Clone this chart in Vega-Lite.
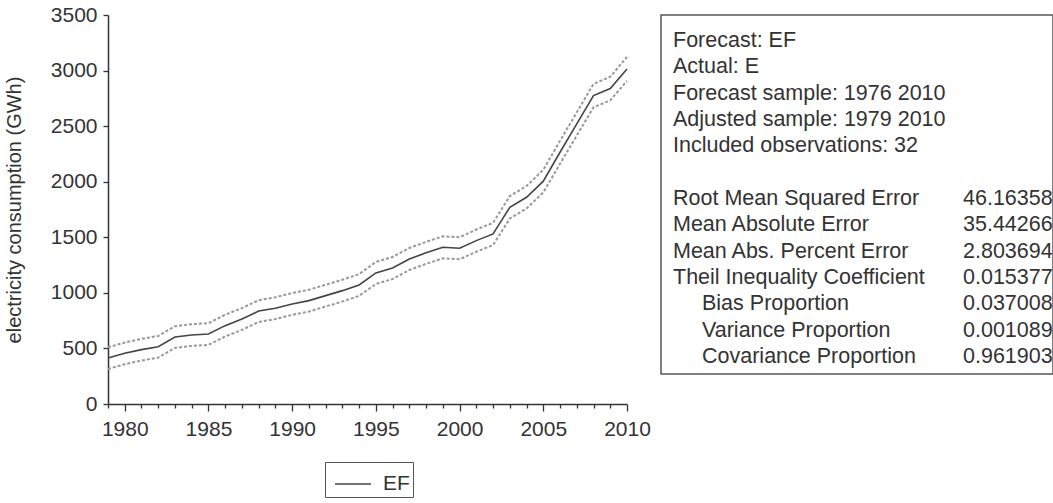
{
  "$schema": "https://vega.github.io/schema/vega-lite/v6.json",
  "background": "white",
  "padding": {"left": 4, "top": 4, "right": 0, "bottom": 0},
  "bounds": "flush",
  "spacing": 34,
  "config": {
    "font": "Liberation Sans",
    "axis": {"labelFont": "Liberation Sans", "titleFont": "Liberation Sans", "labelColor": "#333", "titleColor": "#333", "grid": false, "domainColor": "#333", "tickColor": "#333", "domainWidth": 1.5, "tickWidth": 1.3},
    "legend": {"labelFont": "Liberation Sans"}
  },
  "datasets": {
    "forecast": [
      {"year": 1979, "EF": 414, "upper": 510, "lower": 315},
      {"year": 1980, "EF": 456, "upper": 553, "lower": 358},
      {"year": 1981, "EF": 489, "upper": 586, "lower": 391},
      {"year": 1982, "EF": 515, "upper": 612, "lower": 417},
      {"year": 1983, "EF": 603, "upper": 700, "lower": 505},
      {"year": 1984, "EF": 621, "upper": 718, "lower": 523},
      {"year": 1985, "EF": 630, "upper": 727, "lower": 532},
      {"year": 1986, "EF": 705, "upper": 803, "lower": 607},
      {"year": 1987, "EF": 765, "upper": 863, "lower": 667},
      {"year": 1988, "EF": 836, "upper": 934, "lower": 738},
      {"year": 1989, "EF": 862, "upper": 960, "lower": 764},
      {"year": 1990, "EF": 900, "upper": 998, "lower": 802},
      {"year": 1991, "EF": 930, "upper": 1028, "lower": 832},
      {"year": 1992, "EF": 975, "upper": 1073, "lower": 877},
      {"year": 1993, "EF": 1020, "upper": 1118, "lower": 922},
      {"year": 1994, "EF": 1071, "upper": 1169, "lower": 973},
      {"year": 1995, "EF": 1179, "upper": 1278, "lower": 1080},
      {"year": 1996, "EF": 1224, "upper": 1323, "lower": 1125},
      {"year": 1997, "EF": 1305, "upper": 1404, "lower": 1206},
      {"year": 1998, "EF": 1360, "upper": 1459, "lower": 1261},
      {"year": 1999, "EF": 1410, "upper": 1509, "lower": 1311},
      {"year": 2000, "EF": 1401, "upper": 1500, "lower": 1302},
      {"year": 2001, "EF": 1470, "upper": 1570, "lower": 1370},
      {"year": 2002, "EF": 1530, "upper": 1630, "lower": 1430},
      {"year": 2003, "EF": 1770, "upper": 1871, "lower": 1669},
      {"year": 2004, "EF": 1860, "upper": 1961, "lower": 1759},
      {"year": 2005, "EF": 2005, "upper": 2107, "lower": 1903},
      {"year": 2006, "EF": 2265, "upper": 2368, "lower": 2162},
      {"year": 2007, "EF": 2520, "upper": 2624, "lower": 2416},
      {"year": 2008, "EF": 2775, "upper": 2880, "lower": 2670},
      {"year": 2009, "EF": 2838, "upper": 2944, "lower": 2732},
      {"year": 2010, "EF": 3015, "upper": 3122, "lower": 2908}
    ],
    "stats": [
      {"line": 0, "col": "label", "indent": false, "text": "Forecast: EF"},
      {"line": 1, "col": "label", "indent": false, "text": "Actual: E"},
      {"line": 2, "col": "label", "indent": false, "text": "Forecast sample: 1976 2010"},
      {"line": 3, "col": "label", "indent": false, "text": "Adjusted sample: 1979 2010"},
      {"line": 4, "col": "label", "indent": false, "text": "Included observations: 32"},
      {"line": 6, "col": "label", "indent": false, "text": "Root Mean Squared Error"},
      {"line": 7, "col": "label", "indent": false, "text": "Mean Absolute Error"},
      {"line": 8, "col": "label", "indent": false, "text": "Mean Abs. Percent Error"},
      {"line": 9, "col": "label", "indent": false, "text": "Theil Inequality Coefficient"},
      {"line": 10, "col": "label", "indent": true, "text": "Bias Proportion"},
      {"line": 11, "col": "label", "indent": true, "text": "Variance Proportion"},
      {"line": 12, "col": "label", "indent": true, "text": "Covariance Proportion"},
      {"line": 6, "col": "value", "indent": false, "text": "46.16358"},
      {"line": 7, "col": "value", "indent": false, "text": "35.44266"},
      {"line": 8, "col": "value", "indent": false, "text": "2.803694"},
      {"line": 9, "col": "value", "indent": false, "text": "0.015377"},
      {"line": 10, "col": "value", "indent": false, "text": "0.037008"},
      {"line": 11, "col": "value", "indent": false, "text": "0.001089"},
      {"line": 12, "col": "value", "indent": false, "text": "0.961903"}
    ]
  },
  "hconcat": [
    {
      "width": 519,
      "height": 389,
      "view": {"stroke": null},
      "data": {"name": "forecast"},
      "encoding": {
        "x": {"field": "year", "type": "quantitative", "scale": {"domain": [1979, 2010], "nice": false, "zero": false},
              "axis": {"values": [1979,1980,1981,1982,1983,1984,1985,1986,1987,1988,1989,1990,1991,1992,1993,1994,1995,1996,1997,1998,1999,2000,2001,2002,2003,2004,2005,2006,2007,2008,2009,2010],
                       "labelExpr": "datum.value % 5 == 0 ? datum.label : ''", "format": "d", "labelFontSize": 21,
                       "tickSize": {"condition": {"test": "datum.value % 5 == 0", "value": 7}, "value": 4},
                       "labelPadding": 7, "title": null, "labelFlush": false, "labelOverlap": false}}
      },
      "layer": [
        {
          "mark": {"type": "line", "color": "#999", "strokeWidth": 2, "strokeDash": [3, 2]},
          "encoding": {
            "y": {"field": "upper", "type": "quantitative",
                  "scale": {"domain": [0, 3500], "nice": false},
                  "axis": {"values": [0, 500, 1000, 1500, 2000, 2500, 3000, 3500], "format": "d", "labelFontSize": 21, "tickSize": 5, "labelPadding": 6, "title": "electricity consumption (GWh)", "titleFontSize": 20, "titleFontWeight": "normal", "titlePadding": 26}}
          }
        },
        {
          "mark": {"type": "line", "color": "#999", "strokeWidth": 2, "strokeDash": [3, 2]},
          "encoding": {
            "y": {"field": "lower", "type": "quantitative"}
          }
        },
        {
          "mark": {"type": "line", "strokeWidth": 1.6},
          "encoding": {
            "y": {"field": "EF", "type": "quantitative"},
            "color": {"datum": "EF", "scale": {"domain": ["EF"], "range": ["#444"]},
                      "legend": {"orient": "none", "legendX": 217, "legendY": 447, "title": null, "symbolType": "stroke", "symbolSize": 1296, "symbolStrokeWidth": 1.5, "symbolOffset": 6, "labelFontSize": 21, "labelColor": "#333", "padding": 3, "strokeColor": "#555", "labelOffset": 11}}
          }
        }
      ]
    },
    {
      "width": 392,
      "height": 359,
      "view": {"stroke": "#555", "strokeWidth": 1.5},
      "data": {"name": "stats"},
      "encoding": {
        "x": {"field": "col", "type": "nominal", "scale": {"type": "point", "domain": ["label", "value"], "range": [12, 302], "padding": 0}, "axis": null},
        "y": {"field": "line", "type": "quantitative", "scale": {"domain": [0, 12], "range": [32, 348]}, "axis": null},
        "text": {"field": "text"}
      },
      "layer": [
        {
          "transform": [{"filter": "!datum.indent"}],
          "mark": {"type": "text", "align": "left", "baseline": "alphabetic", "fontSize": 21.5, "color": "#333", "font": "Liberation Sans"}
        },
        {
          "transform": [{"filter": "datum.indent"}],
          "mark": {"type": "text", "align": "left", "baseline": "alphabetic", "fontSize": 21.5, "color": "#333", "font": "Liberation Sans", "dx": 29}
        }
      ]
    }
  ]
}
